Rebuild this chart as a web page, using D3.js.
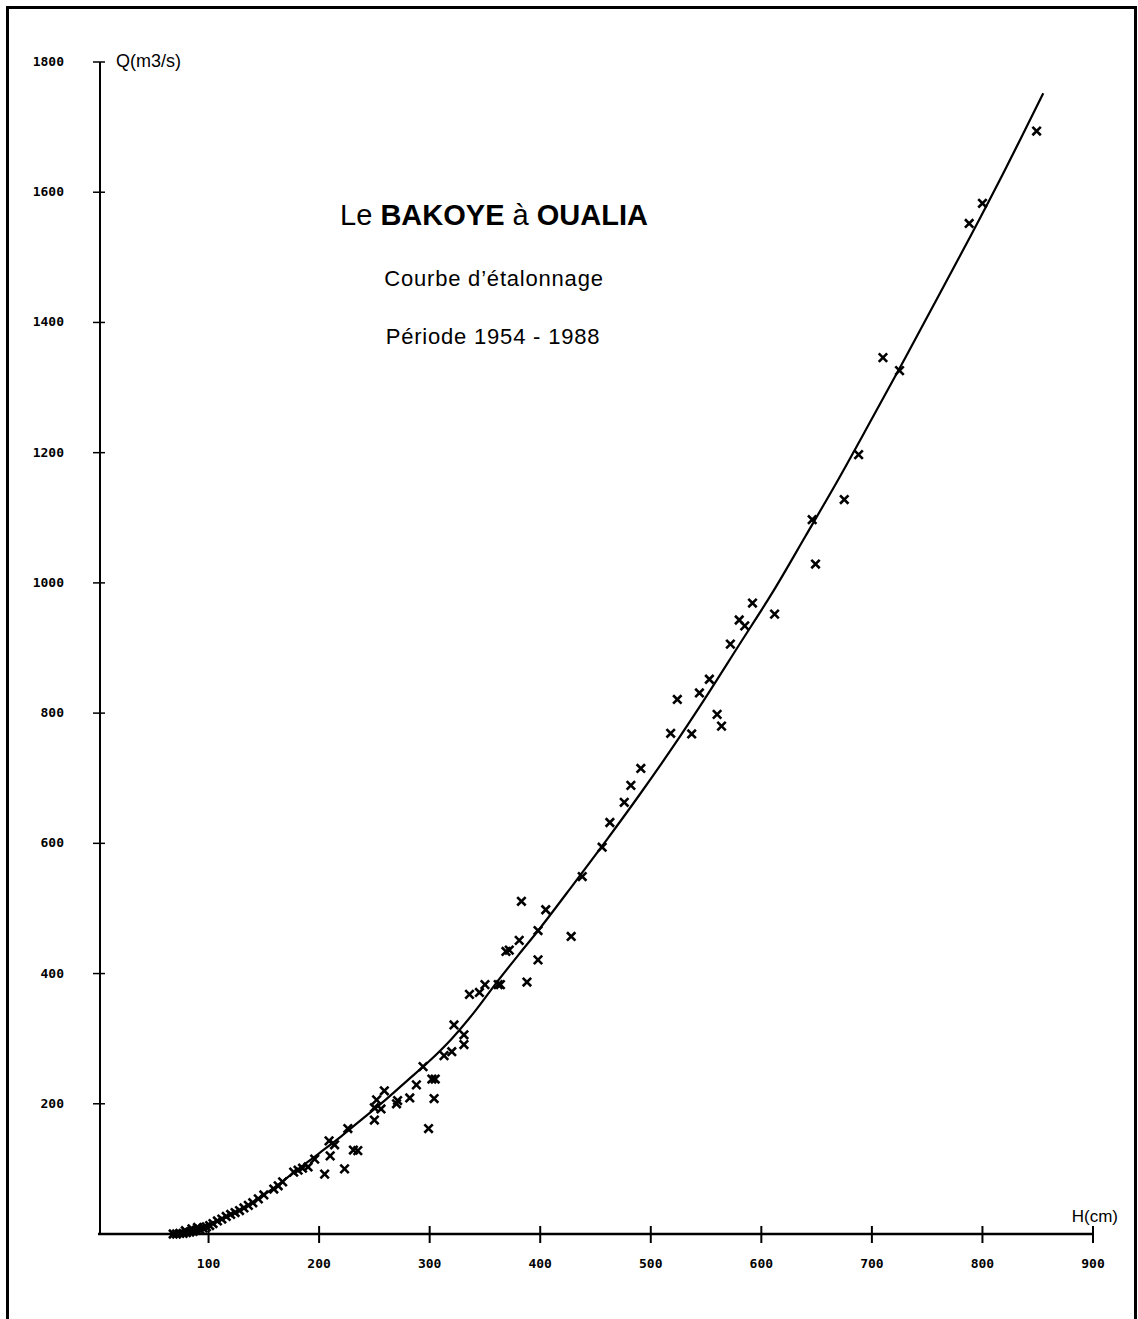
<!DOCTYPE html>
<html>
<head>
<meta charset="utf-8">
<script src="https://d3js.org/d3.v7.min.js"></script>
<style>
  body { margin: 0; background: #fff; }
  .tick-lab { font-family: "DejaVu Sans Mono", monospace; font-weight: bold; font-size: 13px; }
  .lab { font-family: "Liberation Sans", Arial, sans-serif; }
</style>
</head>
<body>
<svg width="1138" height="1319"></svg>
<script>
// ticks
var xTicks = [100, 200, 300, 400, 500, 600, 700, 800, 900];
var yTicks = [200, 400, 600, 800, 1000, 1200, 1400, 1600, 1800];

// rating curve (H cm, Q m3/s)
var curveH = [70, 80, 90, 100, 110, 120, 130, 140, 150, 160, 170, 180, 190, 200, 220, 240, 260, 280, 300, 320, 340, 360, 380, 400, 430, 460, 490, 520, 550, 580, 610, 640, 670, 700, 730, 760, 790, 820, 855];
var curveQ = [0, 2, 6, 13, 21, 30, 39, 49, 60, 72, 85, 98, 111, 124, 150, 178, 206, 236, 266, 300, 340, 385, 428, 470, 537, 605, 675, 748, 825, 905, 985, 1072, 1160, 1252, 1345, 1440, 1535, 1633, 1752];

// gaugings
var gaugeH = [849, 800, 788, 710, 725, 688, 675, 646, 649, 612, 592, 580, 585, 572, 553, 544, 524, 560, 564, 537, 518, 491, 482, 476, 463, 456, 438,
  383, 405, 398, 428, 381, 369, 372, 398, 388, 362, 364, 350, 345, 336, 322, 331, 331, 320, 313, 294, 288, 302, 305, 282, 304, 259, 271, 252, 256, 270, 250, 250, 299, 226,
  209, 214, 210, 231, 235, 223, 205, 196, 190, 185, 181, 177, 167, 163, 159, 150, 145,
  140, 136, 132, 128, 124, 120, 116, 112, 108, 104, 101, 98, 95, 92, 89, 86, 83, 80, 77, 74, 71, 68, 90, 85, 79];
var gaugeQ = [1694, 1583, 1552, 1346, 1326, 1197, 1128, 1097, 1029, 952, 969, 943, 934, 906, 852, 831, 821, 798, 780, 768, 769, 715, 689, 663, 632, 594, 549,
  511, 498, 466, 457, 451, 434, 436, 421, 387, 383, 383, 383, 371, 368, 321, 306, 291, 280, 274, 257, 229, 238, 238, 209, 208, 220, 205, 206, 192, 200, 194, 175, 162, 162,
  143, 137, 120, 129, 128, 100, 92, 115, 103, 101, 98, 95, 80, 74, 69, 60, 54,
  48, 44, 40, 36, 33, 30, 27, 23, 20, 16, 13, 11, 9, 7, 6, 4, 3, 2, 1, 1, 0, 0, 10, 8, 5];

var svg = d3.select("svg");
svg.append("rect").attr("width", 1138).attr("height", 1319).attr("fill", "#fff");

// frame
svg.append("rect")
  .attr("x", 7.5).attr("y", 7.5)
  .attr("width", 1128).attr("height", 1340)
  .attr("fill", "none").attr("stroke", "#000").attr("stroke-width", 3);

var x = d3.scaleLinear().domain([0, 900]).range([98, 1093]);
var y = d3.scaleLinear().domain([0, 1800]).range([1234, 62]);

// y axis
svg.append("line")
  .attr("x1", x(0) + 2).attr("x2", x(0) + 2)
  .attr("y1", y(1800)).attr("y2", y(0))
  .attr("stroke", "#000").attr("stroke-width", 2);

svg.selectAll(".ytick").data(yTicks).enter().append("line")
  .attr("x1", x(0) - 5).attr("x2", x(0) + 7)
  .attr("y1", function(d) { return y(d); })
  .attr("y2", function(d) { return y(d); })
  .attr("stroke", "#000").attr("stroke-width", 1.5);

svg.selectAll(".ylab").data(yTicks).enter().append("text")
  .attr("class", "tick-lab")
  .attr("x", 64)
  .attr("y", function(d) { return y(d) + 4; })
  .attr("text-anchor", "end")
  .text(function(d) { return d; });

// x axis
svg.append("line")
  .attr("x1", x(0)).attr("x2", x(900))
  .attr("y1", y(0)).attr("y2", y(0))
  .attr("stroke", "#000").attr("stroke-width", 2.5);

svg.selectAll(".xtick").data(xTicks).enter().append("line")
  .attr("x1", function(d) { return x(d); })
  .attr("x2", function(d) { return x(d); })
  .attr("y1", y(0) - 8).attr("y2", y(0) + 9)
  .attr("stroke", "#000").attr("stroke-width", 2);

svg.selectAll(".xlab").data(xTicks).enter().append("text")
  .attr("class", "tick-lab")
  .attr("x", function(d) { return x(d); })
  .attr("y", y(0) + 34)
  .attr("text-anchor", "middle")
  .text(function(d) { return d; });

// axis titles
svg.append("text").attr("class", "lab")
  .attr("x", 116).attr("y", 67)
  .style("font-size", "18px")
  .text("Q(m3/s)");

svg.append("text").attr("class", "lab")
  .attr("x", 1118).attr("y", 1222)
  .attr("text-anchor", "end")
  .style("font-size", "17px")
  .text("H(cm)");

// titles
var t = svg.append("text").attr("class", "lab")
  .attr("x", 494).attr("y", 225)
  .attr("text-anchor", "middle")
  .style("font-size", "29px");
t.append("tspan").text("Le ");
t.append("tspan").style("font-weight", "bold").text("BAKOYE");
t.append("tspan").text(" à ");
t.append("tspan").style("font-weight", "bold").text("OUALIA");

svg.append("text").attr("class", "lab")
  .attr("x", 494).attr("y", 286)
  .attr("text-anchor", "middle")
  .style("font-size", "22px")
  .style("letter-spacing", "0.8px")
  .text("Courbe d’étalonnage");

svg.append("text").attr("class", "lab")
  .attr("x", 493).attr("y", 344)
  .attr("text-anchor", "middle")
  .style("font-size", "22px")
  .style("letter-spacing", "0.8px")
  .text("Période 1954 - 1988");

// rating curve
var line = d3.line()
  .x(function(d, i) { return x(curveH[i]); })
  .y(function(d, i) { return y(curveQ[i]); })
  .curve(d3.curveCatmullRom);

svg.append("path")
  .attr("d", line(curveH))
  .attr("fill", "none")
  .attr("stroke", "#000")
  .attr("stroke-width", 2.2);

// gaugings
var sym = d3.symbol().type(d3.symbolX).size(48);
svg.selectAll(".pt").data(gaugeH).enter().append("path")
  .attr("d", sym)
  .attr("transform", function(d, i) { return "translate(" + x(gaugeH[i]) + "," + y(gaugeQ[i]) + ")"; })
  .attr("fill", "none")
  .attr("stroke", "#000")
  .attr("stroke-width", 2.6);
</script>
</body>
</html>
